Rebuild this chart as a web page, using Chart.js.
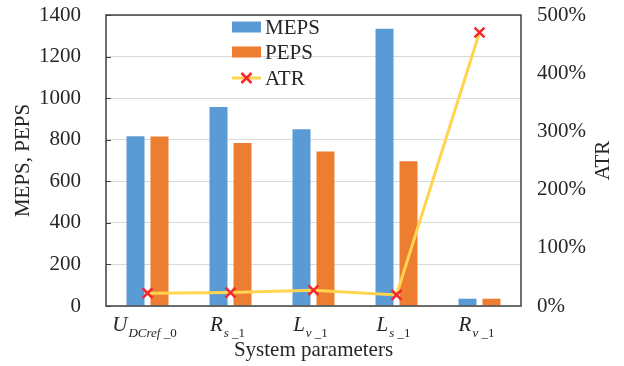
<!DOCTYPE html>
<html>
<head>
<meta charset="utf-8">
<script src="https://cdn.jsdelivr.net/npm/chart.js@4.4.1/dist/chart.umd.min.js"></script>
<style>
  html, body { margin: 0; padding: 0; background: #ffffff; }
  #wrap { width: 624px; height: 366px; position: relative; }
</style>
</head>
<body>
<div id="wrap"><canvas id="c"></canvas></div>
<script>
// ---- data ----
const categories = ['U_DCref_0', 'R_s_1', 'L_v_1', 'L_s_1', 'R_v_1'];
// label parts: main italic letter, italic subscript, upright suffix
const labelMain = ['U', 'R', 'L', 'L', 'R'];
const labelSub = ['DCref', 's', 'v', 's', 'v'];
const labelSuffix = [' _0', ' _1', ' _1', ' _1', ' _1'];
const meps = [817, 957, 850, 1334, 35];
const peps = [815, 784, 743, 696, 35];
const atr = [22, 23, 27, 19, 470]; // percent
const leftTicks = [0, 200, 400, 600, 800, 1000, 1200, 1400];
const rightTicks = [0, 100, 200, 300, 400, 500];

const SERIF = "'Liberation Serif', 'Times New Roman', serif";
const TXT = '#262626';

const overlay = {
  id: 'overlay',
  afterDraw(chart) {
    const ctx = chart.ctx;
    const a = chart.chartArea;
    const xs = chart.scales.x;
    const yl = chart.scales.y;
    ctx.save();
    ctx.strokeStyle = '#404040';
    ctx.lineWidth = 1;
    leftTicks.forEach(v => {
      const y = Math.round(yl.getPixelForValue(v)) + 0.5;
      ctx.beginPath();
      ctx.moveTo(a.left, y);
      ctx.lineTo(a.left + 5, y);
      ctx.stroke();
    });
    ctx.strokeStyle = '#404040';
    ctx.lineWidth = 1.5;
    ctx.strokeRect(a.left, a.top, a.right - a.left, a.bottom - a.top);

    ctx.fillStyle = TXT;
    ctx.textBaseline = 'alphabetic';
    ctx.textAlign = 'left';
    const mainFont = 'italic 21px ' + SERIF;
    const subFont = 'italic 13px ' + SERIF;
    const sufFont = '13px ' + SERIF;
    categories.forEach((c, i) => {
      const cx = xs.getPixelForValue(i) - 3;
      ctx.font = mainFont; const w1 = ctx.measureText(labelMain[i]).width;
      ctx.font = subFont; const w2 = ctx.measureText(labelSub[i]).width;
      ctx.font = sufFont; const w3 = ctx.measureText(labelSuffix[i]).width;
      let x = cx - (w1 + 1 + w2 + w3) / 2;
      const base = 331;
      ctx.font = mainFont; ctx.fillText(labelMain[i], x, base); x += w1 + 1;
      ctx.font = subFont; ctx.fillText(labelSub[i], x, base + 6); x += w2;
      ctx.font = sufFont; ctx.fillText(labelSuffix[i], x, base + 6);
    });

    ctx.save();
    ctx.translate(603, (a.top + a.bottom) / 2);
    ctx.rotate(-Math.PI / 2);
    ctx.textAlign = 'center';
    ctx.textBaseline = 'middle';
    ctx.font = '21px ' + SERIF;
    ctx.fillText('ATR', 0, 0);
    ctx.restore();

    const ds = chart.data.datasets;
    const lx = 232, lw = 29;
    const rows = [27, 52, 78];
    ctx.font = '21px ' + SERIF;
    ctx.textBaseline = 'middle';
    ctx.textAlign = 'left';
    ctx.fillStyle = ds[0].backgroundColor;
    ctx.fillRect(lx, rows[0] - 5.5, lw, 11);
    ctx.fillStyle = TXT;
    ctx.fillText(ds[0].label, lx + lw + 4, rows[0] + 1);
    ctx.fillStyle = ds[1].backgroundColor;
    ctx.fillRect(lx, rows[1] - 5.5, lw, 11);
    ctx.fillStyle = TXT;
    ctx.fillText(ds[1].label, lx + lw + 4, rows[1] + 1);
    ctx.strokeStyle = ds[2].borderColor;
    ctx.lineWidth = 3;
    ctx.beginPath();
    ctx.moveTo(lx, rows[2]);
    ctx.lineTo(lx + lw, rows[2]);
    ctx.stroke();
    ctx.strokeStyle = ds[2].pointBorderColor;
    ctx.lineWidth = 2.5;
    const mx = lx + lw / 2, my = rows[2], r = 5;
    ctx.beginPath();
    ctx.moveTo(mx - r, my - r); ctx.lineTo(mx + r, my + r);
    ctx.moveTo(mx + r, my - r); ctx.lineTo(mx - r, my + r);
    ctx.stroke();
    ctx.fillStyle = TXT;
    ctx.fillText(ds[2].label, lx + lw + 4, rows[2] + 1);
    ctx.restore();
  }
};

function fixV(w) {
  return function (s) { s.width = w; s.paddingTop = 0; s.paddingBottom = 0; };
}

new Chart(document.getElementById('c'), {
  data: {
    labels: categories,
    datasets: [
      {
        type: 'bar', label: 'MEPS', data: meps, yAxisID: 'y',
        backgroundColor: '#5B9BD5', order: 2,
        categoryPercentage: 0.578, barPercentage: 0.75
      },
      {
        type: 'bar', label: 'PEPS', data: peps, yAxisID: 'y',
        backgroundColor: '#ED7D31', order: 2,
        categoryPercentage: 0.578, barPercentage: 0.75
      },
      {
        type: 'line', label: 'ATR', data: atr, yAxisID: 'y1',
        borderColor: '#FFD550', borderWidth: 3, tension: 0,
        pointStyle: 'crossRot', pointRadius: 7, pointBorderWidth: 2.5,
        pointBorderColor: '#F5282A', pointBackgroundColor: '#F5282A',
        order: 0
      }
    ]
  },
  options: {
    responsive: true,
    maintainAspectRatio: false,
    animation: false,
    layout: { autoPadding: false, padding: { top: 15, left: 0, right: 0, bottom: 0 } },
    plugins: { legend: { display: false }, tooltip: { enabled: false } },
    scales: {
      x: {
        grid: { display: false },
        border: { display: false },
        ticks: { display: false },
        title: {
          display: true, text: 'System parameters', color: TXT,
          font: { family: SERIF, size: 21 }, padding: { top: 0, bottom: 3 }
        },
        afterFit(s) { s.height = 60; s.paddingLeft = 0; s.paddingRight = 0; }
      },
      y: {
        position: 'left', min: 0, max: 1400,
        afterBuildTicks(s) { s.ticks = leftTicks.map(v => ({ value: v })); },
        grid: { color: '#d9d9d9', drawTicks: false, lineWidth: 1 },
        border: { display: false },
        ticks: {
          color: TXT, font: { family: SERIF, size: 21 }, padding: 25,
          callback: v => String(v)
        },
        title: {
          display: true, text: 'MEPS, PEPS', color: TXT,
          font: { family: SERIF, size: 21 }, padding: { top: 11, bottom: 0 }
        },
        afterFit: fixV(106)
      },
      y1: {
        position: 'right', min: 0, max: 500,
        afterBuildTicks(s) { s.ticks = rightTicks.map(v => ({ value: v })); },
        grid: { display: false, drawTicks: false },
        border: { display: false },
        ticks: {
          color: TXT, font: { family: SERIF, size: 21 }, padding: 16,
          callback: v => v + '%'
        },
        afterFit: fixV(103)
      }
    }
  },
  plugins: [overlay]
});
</script>
</body>
</html>
